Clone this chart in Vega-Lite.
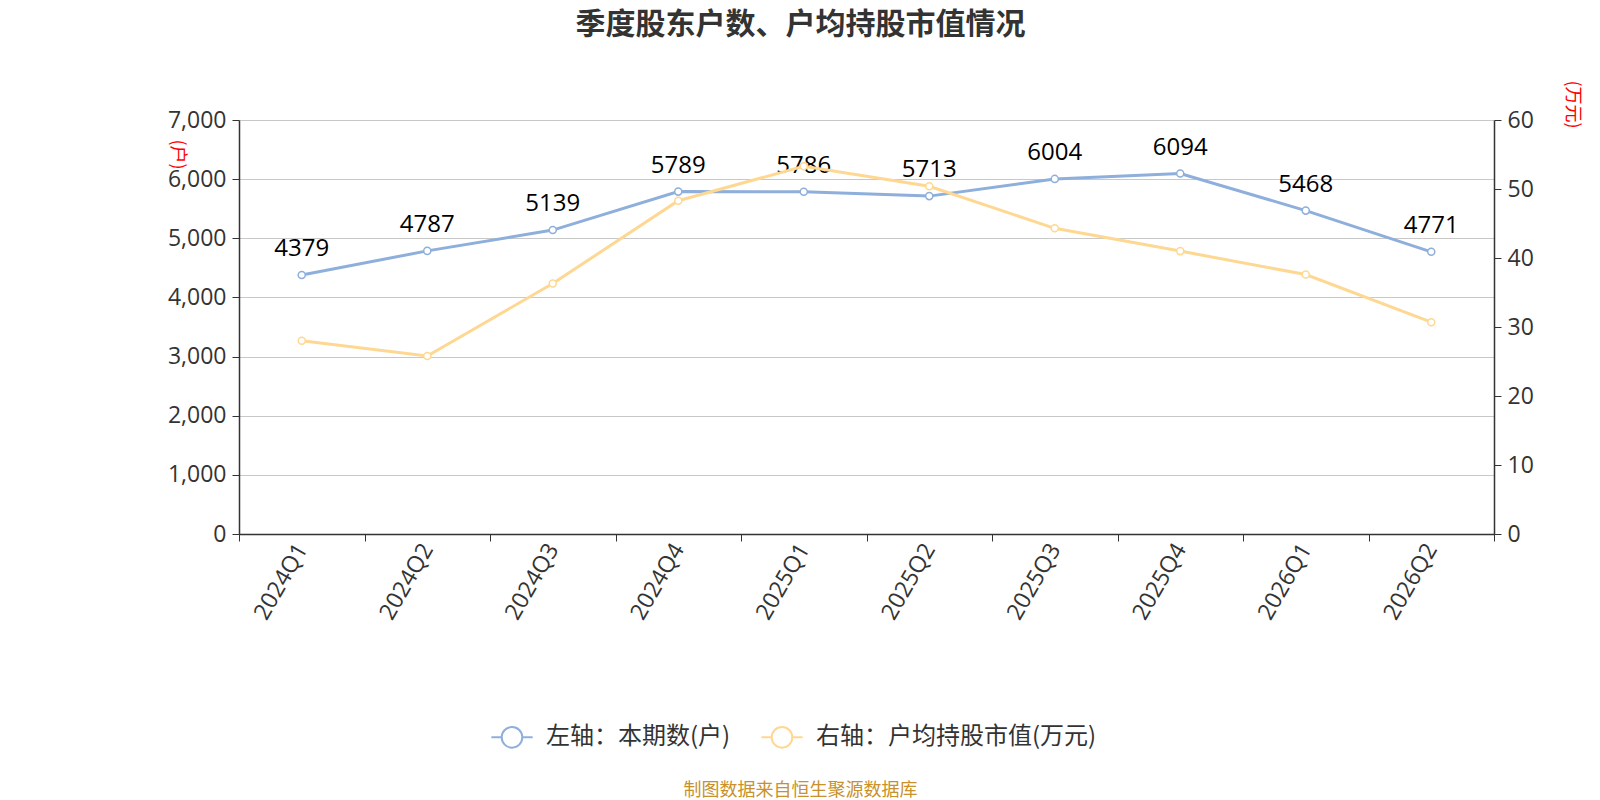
{
  "$schema": "https://vega.github.io/schema/vega-lite/v6.json",
  "width": 1255,
  "height": 414,
  "autosize": "none",
  "padding": {"left": 239, "top": 120, "right": 106, "bottom": 266},
  "background": "white",
  "title": {
    "text": "季度股东户数、户均持股市值情况",
    "font": "Noto Sans CJK SC",
    "fontSize": 30,
    "fontWeight": "bold",
    "color": "#333333",
    "anchor": "middle",
    "dx": -66,
    "offset": 40
  },
  "config": {
    "view": {"stroke": null},
    "font": "Open Sans"
  },
  "data": {
    "values": [
      {"q": "2024Q1", "holders": 4379, "value": 28.0},
      {"q": "2024Q2", "holders": 4787, "value": 25.8},
      {"q": "2024Q3", "holders": 5139, "value": 36.3},
      {"q": "2024Q4", "holders": 5789, "value": 48.3},
      {"q": "2025Q1", "holders": 5786, "value": 53.3},
      {"q": "2025Q2", "holders": 5713, "value": 50.4},
      {"q": "2025Q3", "holders": 6004, "value": 44.3},
      {"q": "2025Q4", "holders": 6094, "value": 41.0},
      {"q": "2026Q1", "holders": 5468, "value": 37.6},
      {"q": "2026Q2", "holders": 4771, "value": 30.7}
    ]
  },
  "encoding": {
    "x": {
      "field": "q",
      "type": "ordinal",
      "sort": null,
      "scale": {"type": "band", "paddingInner": 0, "paddingOuter": 0},
      "axis": {
        "title": "制图数据来自恒生聚源数据库",
        "titleFont": "Noto Sans CJK SC",
        "titleFontSize": 18,
        "titleFontWeight": "normal",
        "titleColor": "#c8912b",
        "titleX": 561,
        "titleY": 256,
        "titleAlign": "center",
        "titleBaseline": "middle",
        "tickBand": "extent",
        "labelAngle": -60,
        "labelAlign": "right",
        "labelBaseline": "middle",
        "labelFontSize": 23,
        "labelColor": "#333333",
        "labelPadding": 4,
        "tickSize": 7,
        "tickColor": "#333333",
        "domainColor": "#333333",
        "domainWidth": 1.5,
        "grid": false
      }
    }
  },
  "layer": [
    {
      "layer": [
        {
          "mark": {
            "type": "line",
            "strokeWidth": 3,
            "point": {"filled": false, "fill": "white", "size": 50, "strokeWidth": 1.5}
          },
          "encoding": {
            "y": {
              "field": "holders",
              "type": "quantitative",
              "scale": {"domain": [0, 7000]},
              "axis": {
                "title": "(户)",
                "titleAngle": 90,
                "titleColor": "#ff0000",
                "titleFont": "Noto Sans CJK SC",
                "titleFontSize": 18,
                "titleFontWeight": "normal",
                "titleX": -63,
                "titleY": 34,
                "titleAlign": "center",
                "titleBaseline": "middle",
                "values": [0, 1000, 2000, 3000, 4000, 5000, 6000, 7000],
                "format": ",d",
                "labelFontSize": 23,
                "labelColor": "#333333",
                "labelPadding": 6,
                "tickSize": 7,
                "tickColor": "#333333",
                "domainColor": "#333333",
                "domainWidth": 1.5,
                "grid": true,
                "gridColor": "#c8c8c8",
                "gridWidth": 1.2
              }
            },
            "color": {
              "datum": "左轴：本期数(户)",
              "type": "nominal",
              "scale": {
                "domain": ["左轴：本期数(户)", "右轴：户均持股市值(万元)"],
                "range": ["#8eafdc", "#fed893"]
              },
              "legend": {
                "title": null,
                "orient": "none",
                "direction": "horizontal",
                "legendX": 251,
                "legendY": 595,
                "symbolType": "M-1,0H-0.5M0.5,0H1M0.5,0A0.5,0.5 0 1,1 -0.5,0A0.5,0.5 0 1,1 0.5,0",
                "symbolSize": 1700,
                "symbolStrokeWidth": 2,
                "symbolFillColor": "white",
                "labelFont": "Noto Sans CJK SC",
                "labelFontSize": 24,
                "labelColor": "#333333",
                "labelOffset": 12,
                "labelLimit": 500,
                "columnPadding": 26,
                "encode": {
                  "symbols": {"update": {"fill": {"value": "white"}, "strokeWidth": {"value": 2}}}
                }
              }
            }
          }
        },
        {
          "mark": {
            "type": "text",
            "fontSize": 24,
            "color": "#000000",
            "baseline": "bottom",
            "dy": -14,
            "font": "Open Sans"
          },
          "encoding": {
            "y": {"field": "holders", "type": "quantitative"},
            "text": {"field": "holders", "type": "quantitative", "format": "d"}
          }
        }
      ]
    },
    {
      "mark": {
        "type": "line",
        "strokeWidth": 3,
        "point": {"filled": false, "fill": "white", "size": 50, "strokeWidth": 1.5}
      },
      "encoding": {
        "y": {
          "field": "value",
          "type": "quantitative",
          "scale": {"domain": [0, 60]},
          "axis": {
            "orient": "right",
            "title": "(万元)",
            "titleAngle": 90,
            "titleColor": "#ff0000",
            "titleFont": "Noto Sans CJK SC",
            "titleFontSize": 18,
            "titleFontWeight": "normal",
            "titleX": 77,
            "titleY": -16,
            "titleAlign": "center",
            "titleBaseline": "middle",
            "values": [0, 10, 20, 30, 40, 50, 60],
            "labelFontSize": 23,
            "labelColor": "#333333",
            "labelPadding": 6,
            "tickSize": 7,
            "tickColor": "#333333",
            "domainColor": "#333333",
            "domainWidth": 1.5,
            "grid": false
          }
        },
        "color": {"datum": "右轴：户均持股市值(万元)", "type": "nominal"}
      }
    }
  ],
  "resolve": {"scale": {"y": "independent"}}
}
